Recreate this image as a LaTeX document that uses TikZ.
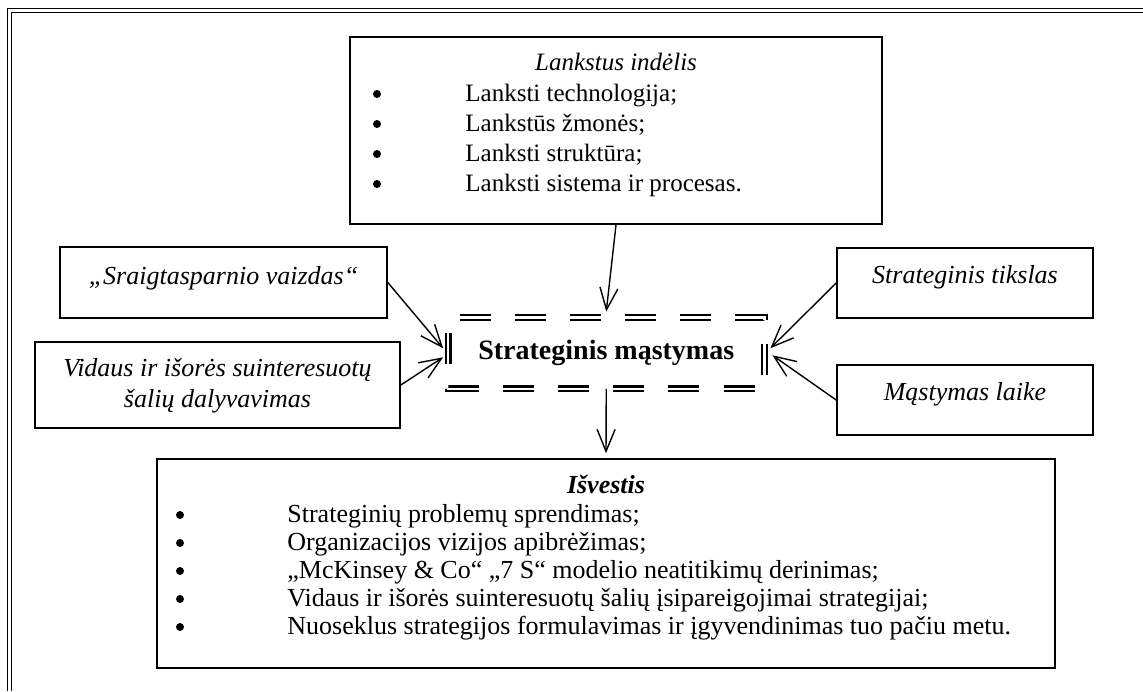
\documentclass[tikz,border=0pt]{standalone}
\usepackage{fontspec}
\setmainfont{Liberation Serif}
\usetikzlibrary{arrows.meta}
\begin{document}
\begin{tikzpicture}[x=0.5pt,y=-0.5pt,
  box/.style={draw, line width=0.8pt, inner sep=0pt, rectangle},
  txt/.style={anchor=base, inner sep=0pt, font=\fontsize{12.5}{14}\selectfont},
  itm/.style={anchor=base west, inner sep=0pt, font=\fontsize{12.5}{14}\selectfont},
  side/.style={anchor=base, inner sep=0pt, font=\itshape\fontsize{13}{15}\selectfont},
  dot/.style={circle, fill, inner sep=0pt, minimum size=4pt},
  conn/.style={line width=0.7pt, -{Straight Barb[length=11pt,width=9pt,line width=0.7pt]}},
  dbl/.style={line width=1.1pt, double, double distance=1.3pt,
    dash pattern=on 15.5pt off 12.07pt, dash phase=21.82pt},
]
\useasboundingbox (0,0) rectangle (1143,691);

% page frame (double rule running off the right and bottom edges)
\draw[line width=0.9pt] (7.5,691) -- (7.5,8.5) -- (1143,8.5);
\draw[line width=0.6pt] (11.5,691) -- (11.5,12.5) -- (1143,12.5);

% boxes
\node[box, minimum width=266pt, minimum height=93.5pt] (top) at (616,130.5) {};
\node[box, minimum width=163.5pt, minimum height=35.5pt] (l1) at (223.5,282.5) {};
\node[box, minimum width=182.5pt, minimum height=43pt] (l2) at (217.5,385) {};
\node[box, minimum width=128pt, minimum height=35pt] (r1) at (965,283) {};
\node[box, minimum width=128pt, minimum height=35pt] (r2) at (965,400) {};
\node[box, minimum width=449pt, minimum height=104.5pt] (bot) at (606,563.5) {};

% central element with double dashed border
\node[inner sep=0pt, minimum width=157.75pt, minimum height=35.25pt,
      font=\bfseries\fontsize{14}{16}\selectfont] (c) at (606.25,353.25) {Strateginis mąstymas};
\draw[dbl] (c.north west) -- (c.north east) -- (c.south east) -- (c.south west) -- cycle;

% texts of the top box
\node[txt, font=\itshape\fontsize{12.5}{14}\selectfont] (t0) at (616,70) {Lankstus indėlis};
\foreach \y/\s [count=\i] in {101/Lanksti technologija;, 131/Lankstūs žmonės;, 161/Lanksti struktūra;, 191/Lanksti sistema ir procesas.}{
  \node[dot] (tb\i) at (377,\y-7) {};
  \node[itm] (ti\i) at (465,\y) {\s};
}

% side boxes
\node[side] (l1t) at (223.5,284) {„Sraigtasparnio vaizdas“};
\node[side] (l2a) at (217.5,376) {Vidaus ir išorės suinteresuotų};
\node[side] (l2b) at (217.5,407) {šalių dalyvavimas};
\node[side] (r1t) at (965,283) {Strateginis tikslas};
\node[side] (r2t) at (965,400) {Mąstymas laike};

% texts of the bottom box
\node[txt, font=\bfseries\itshape\fontsize{13}{15}\selectfont] (b0) at (606,493) {Išvestis};
\foreach \y/\s [count=\i] in {522/Strateginių problemų sprendimas;, 550/Organizacijos vizijos apibrėžimas;, 578/„McKinsey \& Co“ „7 S“ modelio neatitikimų derinimas;, 606/Vidaus ir išorės suinteresuotų šalių įsipareigojimai strategijai;, 634/Nuoseklus strategijos formulavimas ir įgyvendinimas tuo pačiu metu.}{
  \node[dot] (bb\i) at (180,\y-7) {};
  \node[itm, font=\fontsize{13}{15}\selectfont] (bi\i) at (287,\y) {\s};
}

% connectors
\draw[conn] (top.south) -- ([yshift=3pt]c.north);
\draw[conn] (l1.east) -- ([xshift=-2.5pt,yshift=2.5pt]c.west);
\draw[conn] (l2.east) -- ([xshift=-2.5pt,yshift=-2pt]c.west);
\draw[conn] (r1.west) -- ([xshift=3pt,yshift=2.5pt]c.east);
\draw[conn] (r2.west) -- ([xshift=4pt,yshift=-1pt]c.east);
\draw[conn] (c.south) -- ([yshift=2.5pt]bot.north);
\end{tikzpicture}
\end{document}
